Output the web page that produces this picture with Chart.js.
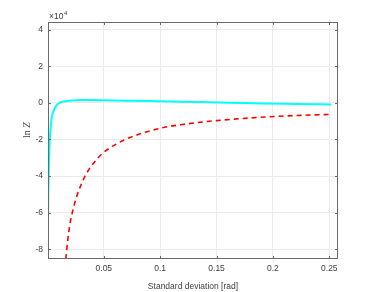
<html>
  <head>
    <meta charset="utf-8">
    <script src="https://cdn.jsdelivr.net/npm/chart.js@4.4.1/dist/chart.umd.min.js"></script>
    <style>
      body { margin: 0; background: #ffffff; }
      #wrap { width: 374px; height: 292px; }
    </style>
  </head>
  <body>
    <div id="wrap"><canvas id="lnz" width="374" height="292"></canvas></div>
    <script>
      // values of ln Z, in units of 1e4 (as on the axis)
      var cyanX = [0.0006, 0.0008, 0.0012, 0.0015, 0.002, 0.003, 0.004, 0.006, 0.008, 0.0108, 0.014, 0.0197, 0.025, 0.032, 0.04, 0.049, 0.07, 0.1, 0.13, 0.16, 0.19, 0.22, 0.2516];
      var cyanY = [-6.13, -5.0, -3.7, -3.06, -2.1, -1.26, -0.75, -0.36, -0.14, 0.0, 0.07, 0.12, 0.14, 0.15, 0.15, 0.14, 0.12, 0.08, 0.04, 0.01, -0.03, -0.06, -0.09];
      var redX = [0.0163, 0.018, 0.02, 0.0226, 0.026, 0.0314, 0.037, 0.046, 0.05, 0.061, 0.075, 0.099, 0.12, 0.15, 0.179, 0.21, 0.2516];
      var redY = [-8.52, -7.5, -6.6, -5.85, -5.1, -4.25, -3.62, -2.93, -2.7, -2.25, -1.85, -1.4, -1.18, -0.97, -0.83, -0.72, -0.63];
      var xTicks = [0.05, 0.1, 0.15, 0.2, 0.25];
      var yTicks = [-8, -6, -4, -2, 0, 2, 4];

      function pts(xs, ys) {
        var out = [];
        for (var i = 0; i < xs.length; i++) out.push({x: xs[i], y: ys[i]});
        return out;
      }

      var axisGray = '#6a6a6a';
      var textGray = '#404040';
      var font = {family: 'Liberation Sans, Arial, sans-serif', size: 8.5};

      // box round the plot, ticks pointing inward, exponent and y label
      var frame = {
        id: 'frame',
        afterDraw: function(chart) {
          var c = chart.ctx, a = chart.chartArea;
          var xs = chart.scales.x, ys = chart.scales.y;
          c.save();
          c.strokeStyle = axisGray;
          c.lineWidth = 1;
          c.strokeRect(a.left + 0.5, a.top + 0.5, a.right - a.left - 1, a.bottom - a.top - 1);
          c.beginPath();
          xTicks.forEach(function(v) {
            var px = Math.round(xs.getPixelForValue(v)) + 0.5;
            c.moveTo(px, a.bottom); c.lineTo(px, a.bottom - 3);
            c.moveTo(px, a.top); c.lineTo(px, a.top + 3);
          });
          yTicks.forEach(function(v) {
            var py = Math.round(ys.getPixelForValue(v)) + 0.5;
            c.moveTo(a.left, py); c.lineTo(a.left + 3, py);
            c.moveTo(a.right, py); c.lineTo(a.right - 3, py);
          });
          c.stroke();

          c.fillStyle = textGray;
          c.font = '8.5px Liberation Sans, Arial, sans-serif';
          c.textBaseline = 'alphabetic';
          c.fillText('\u00d710', a.left + 1, a.top - 3);
          c.font = '6px Liberation Sans, Arial, sans-serif';
          c.fillText('4', a.left + 1 + c.measureText('x').width + 12, a.top - 7);

          c.translate(30, 130);
          c.rotate(-Math.PI / 2);
          c.font = '10px Liberation Serif, Times New Roman, serif';
          c.textAlign = 'left';
          var w1 = c.measureText('ln ').width;
          c.font = 'italic 10px Liberation Serif, Times New Roman, serif';
          var w2 = c.measureText('Z').width;
          c.font = '10px Liberation Serif, Times New Roman, serif';
          c.fillText('ln ', -(w1 + w2) / 2, 0);
          c.font = 'italic 10px Liberation Serif, Times New Roman, serif';
          c.fillText('Z', -(w1 + w2) / 2 + w1, 0);
          c.restore();
        }
      };

      var chart = new Chart(document.getElementById('lnz'), {
        type: 'scatter',
        data: {
          datasets: [
            {
              label: 'cyan',
              data: pts(cyanX, cyanY),
              showLine: true,
              borderColor: '#00ffff',
              borderWidth: 2,
              pointRadius: 0,
              cubicInterpolationMode: 'monotone'
            },
            {
              label: 'red',
              data: pts(redX, redY),
              showLine: true,
              borderColor: '#ff0000',
              borderWidth: 1.6,
              borderDash: [5, 4],
              pointRadius: 0,
              cubicInterpolationMode: 'monotone'
            }
          ]
        },
        options: {
          responsive: false,
          animation: false,
          clip: true,
          layout: { padding: { left: 0, right: 36, top: 22, bottom: 0 } },
          plugins: {
            legend: { display: false },
            tooltip: { enabled: false }
          },
          scales: {
            x: {
              type: 'linear',
              min: 0.0005,
              max: 0.2577,
              afterBuildTicks: function(axis) {
                axis.ticks = xTicks.map(function(v) { return {value: v}; });
              },
              afterFit: function(axis) { axis.height = 33; },
              grid: { color: '#ebebeb', drawTicks: false },
              border: { display: false },
              ticks: {
                color: textGray,
                font: font,
                padding: 5,
                maxRotation: 0,
                callback: function(v) { return String(Math.round(v * 100) / 100); }
              },
              title: {
                display: true,
                text: 'Standard deviation [rad]',
                color: textGray,
                font: {family: 'Liberation Sans, Arial, sans-serif', size: 8.5},
                padding: { top: 2, bottom: 0 }
              }
            },
            y: {
              type: 'linear',
              min: -8.52,
              max: 4.41,
              afterBuildTicks: function(axis) {
                axis.ticks = yTicks.map(function(v) { return {value: v}; });
              },
              afterFit: function(axis) { axis.width = 48; },
              grid: { color: '#ebebeb', drawTicks: false },
              border: { display: false },
              ticks: {
                color: textGray,
                font: font,
                padding: 5,
                callback: function(v) { return String(v); }
              }
            }
          }
        },
        plugins: [frame]
      });
    </script>
  </body>
</html>
